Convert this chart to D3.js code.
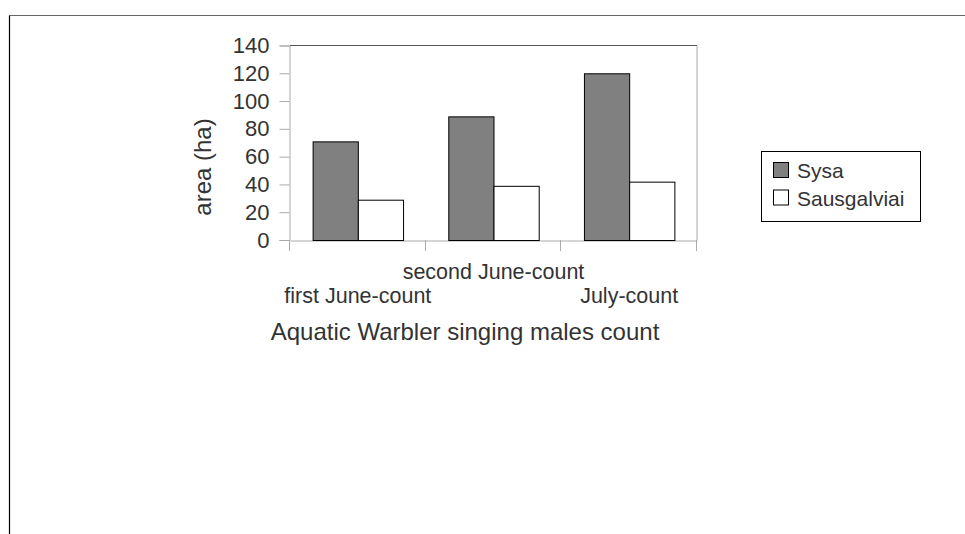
<!DOCTYPE html>
<html><head><meta charset="utf-8">
<script src="https://cdn.jsdelivr.net/npm/d3@7"></script>
<style>body{margin:0;background:#fff}svg{display:block}text{font-family:"Liberation Sans",Arial,sans-serif;fill:#333}</style>
</head><body>
<script>
const categories = ["first June-count", "second June-count", "July-count"];
const seriesNames = ["Sysa", "Sausgalviai"];
const sysa = [71, 89, 120];
const sausgalviai = [29, 39, 42];
const yTicks = [0, 20, 40, 60, 80, 100, 120, 140];
const seriesColors = ["#808080", "#ffffff"];

(function () {
const W = 965, H = 534;
const svg = d3.select("body").append("svg").attr("width", W).attr("height", H);

// outer frame
svg.append("line").attr("x1", 9.5).attr("x2", 965).attr("y1", 15.5).attr("y2", 15.5).attr("stroke", "#666");
svg.append("line").attr("x1", 9.5).attr("x2", 9.5).attr("y1", 15.5).attr("y2", 534).attr("stroke", "#000").attr("stroke-width", 1.2);

const pL = 290, pR = 697, pT = 45.5, pB = 240;
const x = d3.scaleBand().domain(categories).range([pL, pR]).paddingInner(0).paddingOuter(0);
const xs = d3.scaleBand().domain(seriesNames).range([0, x.bandwidth()]).paddingInner(0).paddingOuter(0.5);
const y = d3.scaleLinear().domain([0, 140]).range([pB, pT]);

// plot frame
svg.append("line").attr("x1", pL).attr("x2", pR).attr("y1", pT).attr("y2", pT).attr("stroke", "#555");
svg.append("line").attr("x1", pR).attr("x2", pR).attr("y1", pT).attr("y2", pB).attr("stroke", "#aaa");

// y axis
const yAxis = d3.axisLeft(y).tickValues(yTicks).tickSize(10).tickPadding(10);
const gy = svg.append("g").attr("transform", `translate(${pL - 0.5},0)`).call(yAxis);
gy.select(".domain").attr("stroke", "#aaa");
gy.selectAll(".tick line").attr("stroke", "#aaa");
gy.selectAll(".tick text").attr("font-size", 22).attr("fill", "#333").attr("font-family", "Liberation Sans, Arial, sans-serif");

// x axis
const gx = svg.append("g").attr("transform", `translate(0,${pB + 0.5})`)
  .call(d3.axisBottom(x).tickSize(0).tickFormat(""));
gx.select(".domain").attr("stroke", "#aaa");
const bounds = [pL, ...categories.map(c => x(c) + x.bandwidth())];
svg.selectAll(".xtick").data(bounds).enter().append("line")
  .attr("x1", d => Math.round(d) - 0.5).attr("x2", d => Math.round(d) - 0.5)
  .attr("y1", pB).attr("y2", pB + 11).attr("stroke", "#aaa");

// bars
const data = categories.map((c, i) => ({c, vals: [sysa[i], sausgalviai[i]]}));
const groups = svg.selectAll(".grp").data(data).enter().append("g")
  .attr("transform", d => `translate(${x(d.c)},0)`);
groups.selectAll("rect").data(d => d.vals.map((v, j) => ({s: seriesNames[j], v, j}))).enter().append("rect")
  .attr("x", d => xs(d.s) + 0.5)
  .attr("y", d => y(d.v) + 0.5)
  .attr("width", xs.bandwidth())
  .attr("height", d => y(0) - y(d.v))
  .attr("fill", d => seriesColors[d.j])
  .attr("stroke", "#000").attr("stroke-width", 1);

// category labels (staggered)
svg.selectAll(".cat").data(categories).enter().append("text")
  .attr("x", d => x(d) + x.bandwidth() / 2)
  .attr("y", (d, i) => i % 2 === 1 ? 279 : 303)
  .attr("text-anchor", "middle").attr("font-size", 21.5).text(d => d);

// axis titles
svg.append("text").attr("x", 465).attr("y", 340).attr("text-anchor", "middle").attr("font-size", 24)
  .text("Aquatic Warbler singing males count");
svg.append("text").attr("transform", "translate(211,167) rotate(-90)").attr("text-anchor", "middle").attr("font-size", 24)
  .text("area (ha)");

// legend
const lg = svg.append("g");
lg.append("rect").attr("x", 761.5).attr("y", 151.5).attr("width", 159).attr("height", 70)
  .attr("fill", "#fff").attr("stroke", "#000");
seriesNames.forEach((s, i) => {
  lg.append("rect").attr("x", 773.5).attr("y", 162.5 + i * 27.5).attr("width", 15).attr("height", 15)
    .attr("fill", seriesColors[i]).attr("stroke", "#000");
  lg.append("text").attr("x", 797).attr("y", 178 + i * 27.5).attr("font-size", 21).text(s);
});
})();
</script>
</body></html>
